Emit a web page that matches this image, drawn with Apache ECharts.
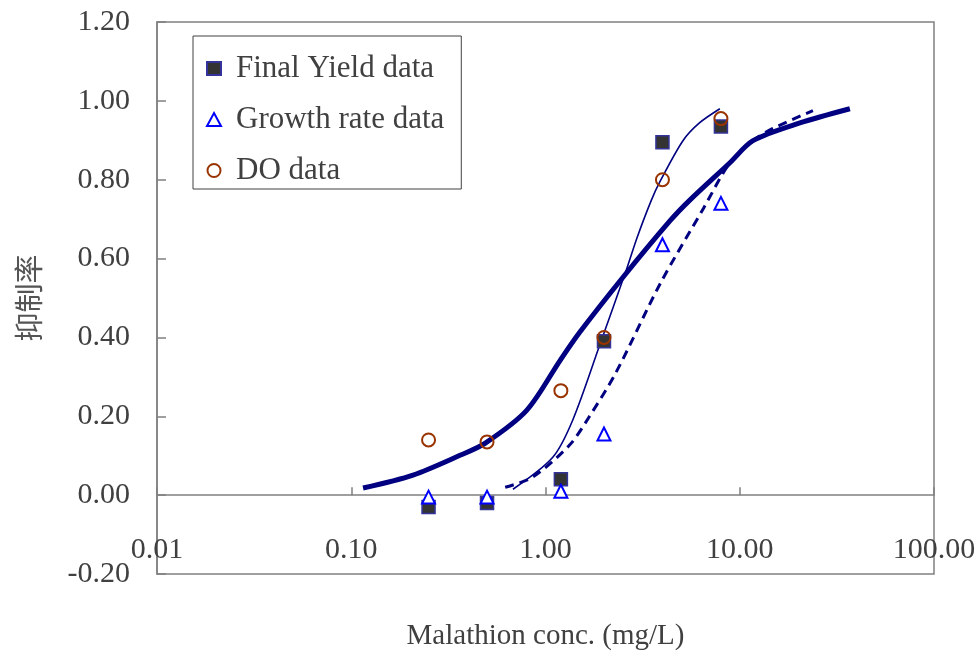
<!DOCTYPE html>
<html>
<head>
<meta charset="utf-8">
<script src="https://cdn.jsdelivr.net/npm/echarts@6/dist/echarts.min.js"></script>
<style>
html,body{margin:0;padding:0;background:#fff;}
#chart{width:979px;height:656px;}
</style>
</head>
<body>
<div id="chart"></div>
<script>
// Data
const concentrations = [0.25, 0.5, 1.2, 2.0, 4.0, 8.0];
const finalYield = [-0.03, -0.02, 0.04, 0.39, 0.895, 0.935];
const growthRate = [-0.005, -0.005, 0.01, 0.155, 0.635, 0.74];
const doData = [0.14, 0.135, 0.265, 0.40, 0.80, 0.955];

// Fitted curves
const thickFitX = [0.115, 0.208, 0.363, 0.49, 0.80, 1.19, 1.5, 2.5, 4.38, 5.5, 8.9, 11.7, 20.4, 36.9];
const thickFitY = [0.018, 0.051, 0.101, 0.132, 0.215, 0.342, 0.413, 0.552, 0.696, 0.747, 0.843, 0.899, 0.944, 0.98];
const thinFitX = [0.68, 1.09, 1.38, 1.9, 2.63, 2.96, 3.5, 3.9, 5.1, 6.2, 7.9];
const thinFitY = [0.015, 0.096, 0.19, 0.38, 0.577, 0.653, 0.747, 0.797, 0.899, 0.944, 0.98];
const dashFitX = [0.62, 0.86, 1.33, 1.67, 2.3, 3.9, 6.5, 8.9, 11.7, 14.8, 23.8];
const dashFitY = [0.02, 0.046, 0.127, 0.197, 0.31, 0.537, 0.727, 0.843, 0.899, 0.93, 0.975];

const pair = (xs, ys) => xs.map((x, i) => [x, ys[i]]);

const serif = '"Liberation Serif", "DejaVu Serif", serif';
const textColor = '#404040';
const axisGrey = '#808080';
const navy = '#000080';

const chart = echarts.init(document.getElementById('chart'));
chart.setOption({
  backgroundColor: '#fff',
  animation: false,
  grid: {
    left: 157, right: 45, top: 22, bottom: 82,
    outerBoundsMode: 'none',
    containLabel: false,
    show: true, borderColor: axisGrey, borderWidth: 1.5, backgroundColor: 'transparent'
  },
  legend: {
    data: ['Final Yield data', 'Growth rate data', 'DO data'],
    orient: 'vertical',
    left: 193, top: 36,
    padding: [17, 17, 3, 13],
    itemGap: 20,
    itemWidth: 14, itemHeight: 13,
    borderColor: textColor, borderWidth: 1,
    backgroundColor: '#fff',
    textStyle: { fontFamily: serif, fontSize: 31, color: textColor, padding: [0, 0, 0, 10] },
    selectedMode: false
  },
  xAxis: {
    type: 'log', logBase: 10, min: 0.01, max: 100,
    name: 'Malathion conc. (mg/L)',
    nameLocation: 'middle',
    nameGap: 48,
    nameTextStyle: { fontFamily: serif, fontSize: 29, color: textColor },
    axisLine: { onZero: true, lineStyle: { color: axisGrey, width: 1.5 } },
    axisTick: { inside: true, length: 8, lineStyle: { color: axisGrey, width: 1.5 } },
    minorTick: { show: false },
    splitLine: { show: false },
    axisLabel: {
      margin: -39,
      fontFamily: serif, fontSize: 30, color: textColor,
      formatter: v => Number(v).toFixed(2)
    }
  },
  yAxis: {
    type: 'value', min: -0.2, max: 1.2, interval: 0.2,
    name: '抑制率',
    nameLocation: 'middle',
    nameRotate: 90,
    nameGap: 114,
    nameTextStyle: { fontFamily: '"Noto Sans CJK TC", "Noto Sans CJK SC", sans-serif', fontSize: 29, color: '#555' },
    axisLine: { onZero: false, show: true, lineStyle: { color: axisGrey, width: 1.5 } },
    axisTick: { inside: true, length: 9, lineStyle: { color: axisGrey, width: 1.5 } },
    splitLine: { show: false },
    axisLabel: {
      margin: 27,
      fontFamily: serif, fontSize: 30, color: textColor,
      formatter: v => (Math.round(v * 100) / 100).toFixed(2)
    }
  },
  series: [
    {
      name: 'Final Yield fit', type: 'line', data: pair(thickFitX, thickFitY),
      showSymbol: false, smooth: 0.3, lineStyle: { color: navy, width: 5 }, z: 2
    },
    {
      name: 'DO fit', type: 'line', data: pair(thinFitX, thinFitY),
      showSymbol: false, smooth: 0.3, lineStyle: { color: navy, width: 1.6 }, z: 2
    },
    {
      name: 'Growth rate fit', type: 'line', data: pair(dashFitX, dashFitY),
      showSymbol: false, smooth: 0.3, lineStyle: { color: navy, width: 3, type: [9, 6] }, z: 2
    },
    {
      name: 'Final Yield data', type: 'scatter', data: pair(concentrations, finalYield),
      symbol: 'rect', symbolSize: 13, symbolKeepAspect: true,
      itemStyle: { color: '#333333', borderColor: '#333399', borderWidth: 1.5, opacity: 1 }, z: 3
    },
    {
      name: 'Growth rate data', type: 'scatter', data: pair(concentrations, growthRate),
      symbol: 'triangle', symbolSize: 13, symbolKeepAspect: true,
      itemStyle: { color: '#ffffff', borderColor: '#0000ff', borderWidth: 2, opacity: 1 }, z: 4
    },
    {
      name: 'DO data', type: 'scatter', data: pair(concentrations, doData),
      symbol: 'circle', symbolSize: 13, symbolKeepAspect: true,
      itemStyle: { color: 'rgba(255,255,255,0)', borderColor: '#993300', borderWidth: 2, opacity: 1 }, z: 5
    }
  ]
});
</script>
</body>
</html>
